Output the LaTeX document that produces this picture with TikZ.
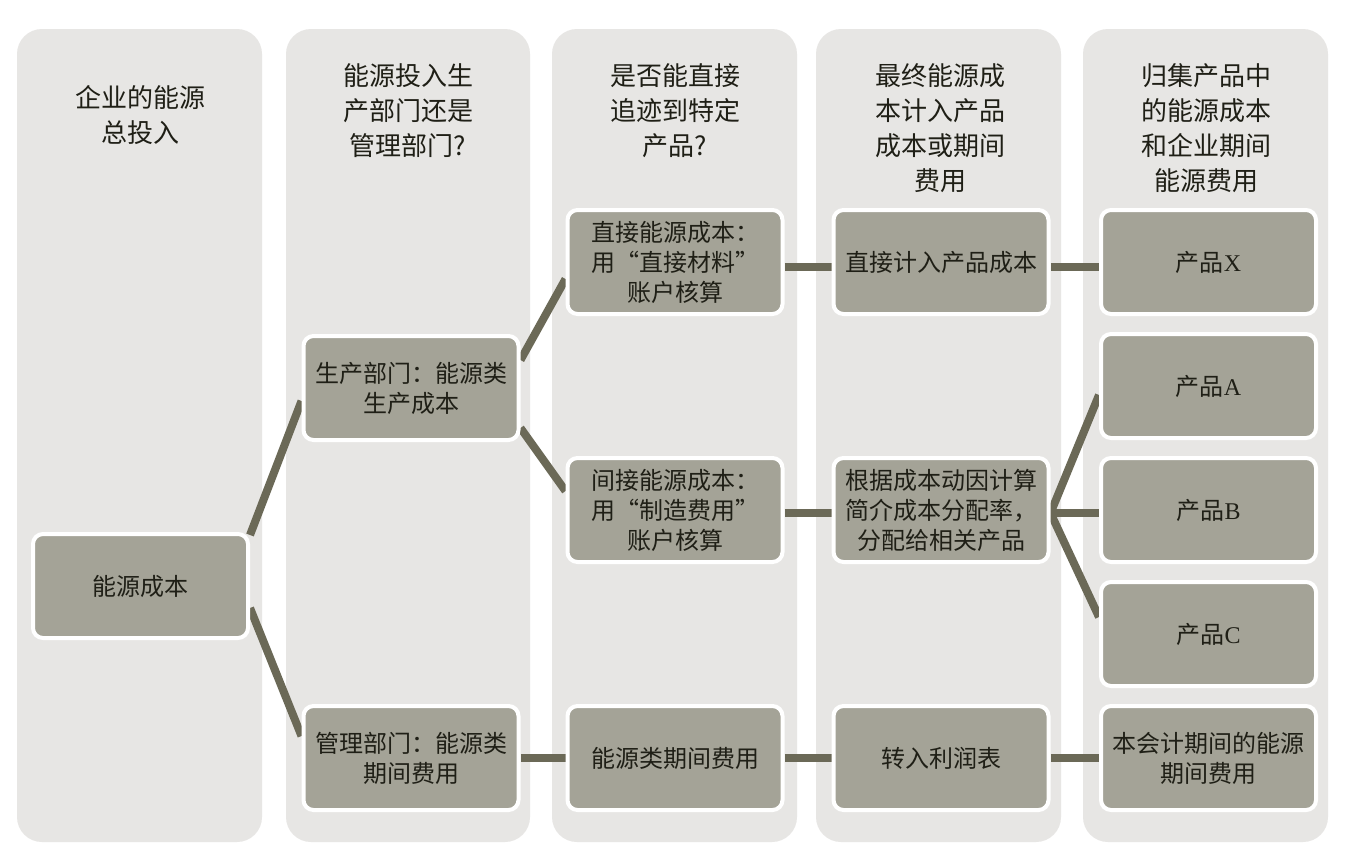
\documentclass[tikz,border=0pt]{standalone}
\usepackage{fontspec}
\setmainfont{Liberation Serif}
\newfontfamily\cjk{Noto Sans CJK SC}
\definecolor{colbg}{HTML}{E7E6E4}
\definecolor{boxfill}{HTML}{A4A397}
\definecolor{linkc}{HTML}{6B6957}
\definecolor{ink}{HTML}{1F1F16}
\pgfdeclarelayer{bg}
\pgfdeclarelayer{lines}
\pgfsetlayers{bg,lines,main}
\begin{document}
\begin{tikzpicture}[x=1pt,y=-1pt,
  column/.style={fill=colbg, rounded corners=25pt},
  head/.style={font=\cjk\fontsize{26}{35}\selectfont, text=ink, align=center, inner sep=0pt},
  stepbox/.style={fill=boxfill, draw=white, line width=4pt, rounded corners=10pt,
    minimum width=215pt, minimum height=104pt, inner sep=2pt,
    font=\cjk\fontsize{24}{30}\selectfont, text=ink, align=center},
  linkline/.style={draw=linkc, line width=8pt}]
\useasboundingbox (0,0) rectangle (1357,854);
\begin{pgfonlayer}{bg}
  \fill[white] (0,0) rectangle (1357,854);
  \path[column] (17,29) rectangle (262,842);
  \path[column] (286,29) rectangle (530,842);
  \path[column] (552,29) rectangle (797,842);
  \path[column] (816,29) rectangle (1061,842);
  \path[column] (1083,29) rectangle (1328,842);
\end{pgfonlayer}
% headers
\node[head] (h1) at (140,115) {企业的能源\\总投入};
\node[head] (h2) at (408,111) {能源投入生\\产部门还是\\管理部门?};
\node[head] (h3) at (675,111) {是否能直接\\追迹到特定\\产品?};
\node[head] (h4) at (940,128) {最终能源成\\本计入产品\\成本或期间\\费用};
\node[head] (h5) at (1206,128) {归集产品中\\的能源成本\\和企业期间\\能源费用};
% boxes
\node[stepbox] (ny) at (140.5,586) {能源成本};
\node[stepbox] (sc) at (411,388) {生产部门：能源类\\生产成本};
\node[stepbox] (gl) at (411,758) {管理部门：能源类\\期间费用};
\node[stepbox] (zj) at (675,262) {直接能源成本：\\用“直接材料”\\账户核算};
\node[stepbox] (jj) at (675,510) {间接能源成本：\\用“制造费用”\\账户核算};
\node[stepbox] (qf) at (675,758) {能源类期间费用};
\node[stepbox] (jr) at (941,262) {直接计入产品成本};
\node[stepbox] (gj) at (941,510) {根据成本动因计算\\简介成本分配率，\\分配给相关产品};
\node[stepbox] (lr) at (941,758) {转入利润表};
\node[stepbox] (px) at (1208.5,262) {产品{\rmfamily X}};
\node[stepbox] (pa) at (1208.5,386) {产品{\rmfamily A}};
\node[stepbox] (pb) at (1208.5,510) {产品{\rmfamily B}};
\node[stepbox] (pc) at (1208.5,634) {产品{\rmfamily C}};
\node[stepbox] (bq) at (1208.5,758) {本会计期间的能源\\期间费用};
% connectors
\begin{pgfonlayer}{lines}
  \draw[linkline] ([yshift=51pt]ny.east) -- ([yshift=-13pt]sc.west);
  \draw[linkline] ([yshift=-22pt]ny.east) -- ([yshift=22pt]gl.west);
  \draw[linkline] ([yshift=28pt]sc.east) -- ([yshift=-17pt]zj.west);
  \draw[linkline] ([yshift=-40pt]sc.east) -- ([yshift=19pt]jj.west);
  \draw[linkline] (gl.east) -- (qf.west);
  \draw[linkline] ([yshift=-5pt]zj.east) -- ([yshift=-5pt]jr.west);
  \draw[linkline] ([yshift=-2.5pt]jj.east) -- ([yshift=-2.5pt]gj.west);
  \draw[linkline] (qf.east) -- (lr.west);
  \draw[linkline] ([yshift=-5pt]jr.east) -- ([yshift=-5pt]px.west);
  \draw[linkline] ([yshift=-3pt]gj.east) -- ([yshift=-9pt]pa.west);
  \draw[linkline] ([yshift=-2.5pt]gj.east) -- ([yshift=-2.5pt]pb.west);
  \draw[linkline] ([yshift=-3pt]gj.east) -- ([yshift=17pt]pc.west);
  \draw[linkline] (lr.east) -- (bq.west);
\end{pgfonlayer}
\end{tikzpicture}
\end{document}
